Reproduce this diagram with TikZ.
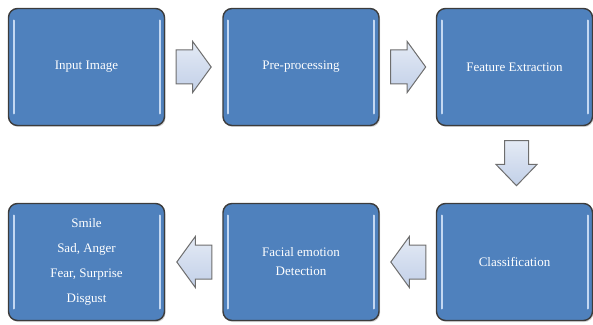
\documentclass[tikz,border=0pt]{standalone}
\usepackage{fontspec}
\setmainfont{Liberation Serif}
\usetikzlibrary{shapes.arrows,shadows,calc}
\definecolor{boxBlue}{HTML}{4F81BD}
\definecolor{boxEdge}{HTML}{3C3C3C}
\definecolor{glossBlue}{HTML}{C4D8F2}
\definecolor{arrowFill}{HTML}{C2D0E8}
\definecolor{arrowEdge}{HTML}{6E6E6E}

\begin{document}
\begin{tikzpicture}[%%
  x=1pt,y=1pt,
  boxStyle/.style={draw=boxEdge,line width=1.4pt,fill=boxBlue,
    rounded corners=9pt,minimum width=156pt,minimum height=117pt,
    text=white,font=\fontsize{13}{15}\selectfont,align=center,
    drop shadow={opacity=0.35,shadow xshift=1pt,shadow yshift=-1.5pt},
    path picture={%%
      \draw[glossBlue,line width=2pt,line cap=round]
        ([xshift=5pt,yshift=-12pt]path picture bounding box.north west)
        -- ([xshift=5pt,yshift=12pt]path picture bounding box.south west);
      \draw[glossBlue,line width=2pt,line cap=round]
        ([xshift=-5pt,yshift=-12pt]path picture bounding box.north east)
        -- ([xshift=-5pt,yshift=12pt]path picture bounding box.south east);
    }},%%
  arrowStyle/.style={single arrow,draw=arrowEdge,line width=1pt,
    top color=white!55!arrowFill,bottom color=arrowFill,
    inner xsep=0pt,inner ysep=16.5pt,single arrow head extend=8.5pt,
    single arrow tip angle=108,minimum height=35pt,anchor=tail}
]
%%
\useasboundingbox (0,0) rectangle (593,324);
%% Centres of the six stages.
\coordinate (c1) at (86.5,257);
\coordinate (c2) at (301,257);
\coordinate (c3) at (514.5,257);
\coordinate (c4) at (514.5,62);
\coordinate (c5) at (301,62);
\coordinate (c6) at (86.5,62);
%%
%% The stages.
\node[boxStyle] (input) at (c1) {Input Image};
\node[boxStyle] (prep) at (c2) {Pre-processing};
\node[boxStyle] (feat) at (c3) {Feature Extraction};
\node[boxStyle] (class) at (c4) {Classification};
\node[boxStyle] (detect) at (c5) {Facial emotion\\[4pt]Detection};
\node[boxStyle,execute at begin node={\setlength{\baselineskip}{25pt}}]
  (emo) at (c6) {Smile\\Sad, Anger\\Fear, Surprise\\Disgust};
%%
%% Block arrows between the stages.
\node[arrowStyle] (a1) at ([xshift=10.5pt]input.east) {};
\node[arrowStyle] (a2) at ([xshift=10.5pt]prep.east) {};
\node[arrowStyle,rotate=-90,minimum height=45pt,inner ysep=11.5pt,
  single arrow tip angle=88] (a3) at ([xshift=2pt,yshift=-14pt]feat.south) {};
\node[arrowStyle,shape border rotate=180] (a4)
  at ([xshift=-9.5pt]class.west) {};
\node[arrowStyle,shape border rotate=180] (a5)
  at ([xshift=-10pt]detect.west) {};
\end{tikzpicture}
\end{document}
